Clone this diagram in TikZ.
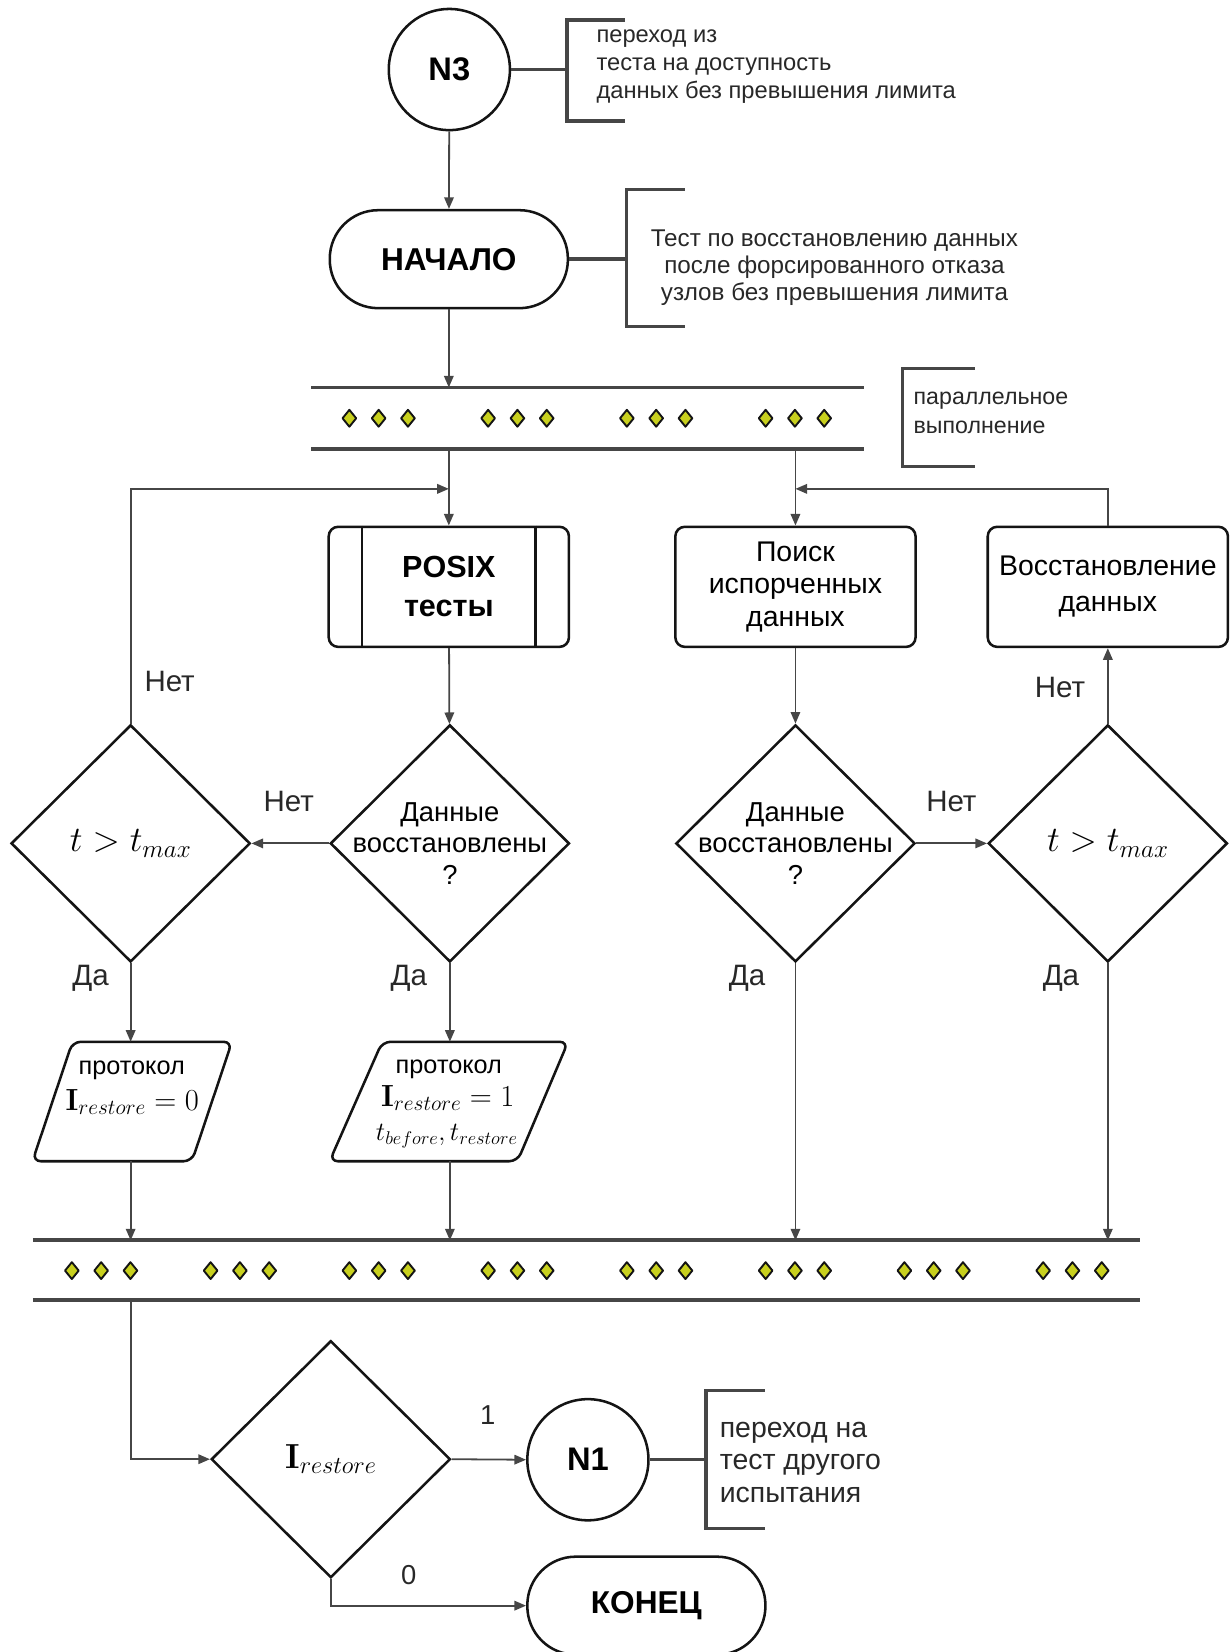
\RequirePackage{fix-cm}
\documentclass[tikz,border=0pt]{standalone}
\usepackage[no-math]{fontspec}
\setmainfont{Liberation Sans}
\usetikzlibrary{shapes.geometric,arrows.meta}

\definecolor{ink}{RGB}{20,20,20}
\definecolor{wire}{RGB}{70,70,70}
\definecolor{txt}{RGB}{40,40,40}
\definecolor{dotfill}{RGB}{200,208,30}

\newcommand{\fsz}[2]{\fontsize{#1}{#2}\selectfont}

\tikzset{
  shp/.style={draw=ink, line width=2.4pt, fill=white},
  term/.style={shp, rectangle, rounded corners=46pt, minimum width=226pt, minimum height=93pt, inner sep=0pt, font=\fsz{30}{34}\bfseries},
  proc/.style={shp, rectangle, rounded corners=9pt, minimum width=228pt, minimum height=114pt, inner sep=0pt, align=center},
  dec/.style={shp, diamond, minimum width=227pt, minimum height=225pt, inner sep=0pt},
  conn/.style={draw=wire, line width=1.7pt},
  arr/.style={conn, -{Triangle[length=11pt,width=9pt]}},
  link/.style={draw=wire, line width=3.2pt},
  bar/.style={draw=wire, line width=3.6pt},
  lbl/.style={font=\fsz{28}{32}, text=txt},
  ann/.style={text=txt, inner sep=0pt},
  circ/.style={shp, circle, minimum size=115pt, inner sep=0pt, font=\fsz{31}{34}\bfseries},
  pdot/.style={draw=ink, line width=1.8pt, fill=dotfill, line join=round},
  hold/.style={rectangle, inner sep=0pt},
}

\begin{document}
\begin{tikzpicture}[x=1pt,y=-1pt]
\useasboundingbox (0,0) rectangle (1167,1568);

% ---------- upper part ----------
\node[circ] (n3) at (426.5,66) {N3};
\node[term] (start) at (426,246) {НАЧАЛО};
\node[hold, minimum width=524pt, minimum height=58pt] (fork) at (557.5,397) {};

\node[proc, font=\fsz{29}{37}\bfseries] (posix) at (426,557) {POSIX\\тесты};
\draw[shp] ([xshift=33pt]posix.north west) -- ([xshift=33pt]posix.south west);
\draw[shp] ([xshift=-33pt]posix.north east) -- ([xshift=-33pt]posix.south east);
\node[proc, font=\fsz{27}{31}] (search) at (755,557) {Поиск\\испорченных\\данных};
\node[proc, font=\fsz{27}{34}] (recov) at (1051.5,557) {Восстановление\\данных};

% decisions
\node[dec] (tm1) at (124,800.5) {};
\node[dec] (d1) at (427,800.5) {};
\node[dec] (d2) at (755,800.5) {};
\node[dec] (tm2) at (1051.5,800.5) {};
\node[font=\fsz{34}{38}] (tm1t) at (tm1) {$t > t_{max}$};
\node[font=\fsz{34}{38}] (tm2t) at (tm2) {$t > t_{max}$};
\node[font=\fsz{26}{30}, align=center] (d1t) at (d1) {Данные\\восстановлены\\?};
\node[font=\fsz{26}{30}, align=center] (d2t) at (d2) {Данные\\восстановлены\\?};

% protocol outputs
\node[hold, minimum width=189pt, minimum height=113pt] (p1) at (125.5,1045.5) {};
\node[hold, minimum width=226pt, minimum height=113pt] (p2) at (426,1045.5) {};
\draw[shp, rounded corners=8pt] ([xshift=38pt]p1.north west) -- (p1.north east)
  -- ([xshift=-38pt]p1.south east) -- (p1.south west) -- cycle;
\draw[shp, rounded corners=8pt] ([xshift=50pt]p2.north west) -- (p2.north east)
  -- ([xshift=-48pt]p2.south east) -- (p2.south west) -- cycle;
\node[font=\fsz{24}{28}] (p1a) at (125,1016) {протокол};
\node[font=\fsz{29}{32}] (p1b) at (125.5,1046) {$\mathbf{I}_{restore} = 0$};
\node[font=\fsz{24}{28}] (p2a) at (426,1015) {протокол};
\node[font=\fsz{29}{32}] (p2b) at (425,1042) {$\mathbf{I}_{restore} = 1$};
\node[font=\fsz{25}{28}] (p2c) at (424,1078) {$t_{before}, t_{restore}$};

% ---------- lower part ----------
\node[hold, minimum width=1050pt, minimum height=56pt] (join) at (556.5,1205.5) {};
\node[dec] (ir) at (314,1385) {};
\node[font=\fsz{33}{36}] (irt) at (ir) {$\mathbf{I}_{restore}$};
\node[circ] (n1) at (558,1385.5) {N1};
\node[term] (fin) at (613.5,1524) {КОНЕЦ};

% parallel bars
\draw[bar] (fork.north west) -- (fork.north east);
\draw[bar] (fork.south west) -- (fork.south east);
\draw[bar] (join.north west) -- (join.north east);
\draw[bar] (join.south west) -- (join.south east);
\foreach \g in {359.4,491.1,622.8,754.5}
  \foreach \d in {-27.8,0,27.8}
    \draw[pdot] ({\g+\d},389) -- ++(6.5,8) -- ++(-6.5,8) -- ++(-6.5,-8) -- cycle;
\foreach \g in {96,227.7,359.4,491.1,622.8,754.5,886.2,1017.9}
  \foreach \d in {-27.8,0,27.8}
    \draw[pdot] ({\g+\d},1198) -- ++(6.5,8) -- ++(-6.5,8) -- ++(-6.5,-8) -- cycle;

% ---------- connectors ----------
\coordinate (mergeL) at (426,464);
\coordinate (mergeR) at (755,464);
\draw[arr] (n3) -- (start);
\draw[arr] (start) -- (start.south |- fork.north);
\draw[arr] (posix.north |- fork.south) -- (posix);
\draw[arr] (search.north |- fork.south) -- (search);
\draw[arr] (tm1.north) |- (mergeL);
\draw[arr] (recov.north) |- (mergeR);
\draw[arr] (posix) -- (d1);
\draw[arr] (search) -- (d2);
\draw[arr] (d1.west) -- (tm1.east);
\draw[arr] (d2.east) -- (tm2.west);
\draw[arr] (tm2.north) -- (recov.south);
\draw[arr] (tm1.south) -- (tm1.south |- p1.north);
\draw[arr] (d1.south) -- (d1.south |- p2.north);
\draw[arr] (tm1.south |- p1.south) -- (tm1.south |- join.north);
\draw[arr] (d1.south |- p2.south) -- (d1.south |- join.north);
\draw[arr] (d2.south) -- (d2.south |- join.north);
\draw[arr] (tm2.south) -- (tm2.south |- join.north);
\draw[arr] (tm1.south |- join.south) |- (ir.west);
\draw[arr] (ir.east) -- (n1.west);
\draw[arr] (ir.south) |- (fin.west);

% branch labels
\node[lbl] (no1) at (161,647) {Нет};
\node[lbl] (no2) at (274,761) {Нет};
\node[lbl] (no3) at (903,761) {Нет};
\node[lbl] (no4) at (1006,653) {Нет};
\node[lbl] (yes1) at (86,929) {Да};
\node[lbl] (yes2) at (388,929) {Да};
\node[lbl] (yes3) at (709,929) {Да};
\node[lbl] (yes4) at (1007,929) {Да};
\node[lbl, font=\fsz{26}{30}] (one) at (463,1343) {1};
\node[lbl, font=\fsz{26}{30}] (zero) at (388,1495) {0};

% ---------- comment brackets ----------
\coordinate (br1) at (538,66);
\draw[link] (n3.east) -- (br1);
\draw[link] (593,19) -- (538,19) -- (538,115) -- (593,115);
\node[ann, anchor=west, align=left, font=\fsz{22.5}{26.5}] (c1) at (566,63)
  {переход из\\теста на доступность\\данных без превышения лимита};

\coordinate (br2) at (594.5,246);
\draw[link] (start.east) -- (br2);
\draw[link] (650,180) -- (594.5,180) -- (594.5,310) -- (650,310);
\node[ann, align=center, font=\fsz{23}{25.5}] (c2) at (792,254)
  {Тест по восстановлению данных\\после форсированного отказа\\узлов без превышения лимита};

\draw[link] (925,350) -- (856.7,350) -- (856.7,443) -- (925,443);
\node[ann, anchor=west, align=left, font=\fsz{22}{27}] (c3) at (867,392)
  {параллельное\\выполнение};

\coordinate (br3) at (670,1385.5);
\draw[link] (n1.east) -- (br3);
\draw[link] (726,1320) -- (670,1320) -- (670,1451) -- (726,1451);
\node[ann, anchor=west, align=left, font=\fsz{27}{30.5}] (c4) at (683,1388)
  {переход на\\тест другого\\испытания};
\end{tikzpicture}
\end{document}
